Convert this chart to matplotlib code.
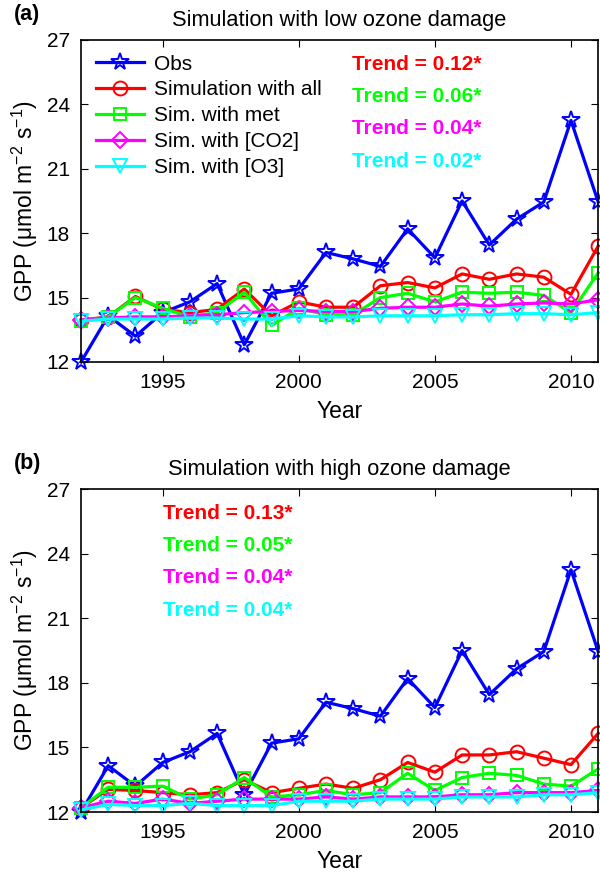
import matplotlib
matplotlib.use("Agg")
import matplotlib.pyplot as plt

plt.rcParams['font.family'] = ['Liberation Sans', 'DejaVu Sans']
plt.rcParams['mathtext.fontset'] = 'custom'
plt.rcParams['mathtext.rm'] = 'Liberation Sans'
plt.rcParams['mathtext.it'] = 'Liberation Sans:italic'

years = list(range(1992, 2012))

obs = [12.0, 14.15, 13.2, 14.3, 14.8, 15.65, 12.8, 15.2, 15.4, 17.1, 16.8, 16.45,
       18.2, 16.85, 19.5, 17.45, 18.65, 19.45, 23.25, 19.45]

# Panel (a): low ozone damage
a_all = [13.95, 14.1, 15.05, 14.45, 14.3, 14.45, 15.4, 14.15, 14.8, 14.55, 14.55, 15.55,
         15.7, 15.45, 16.1, 15.85, 16.1, 15.95, 15.15, 17.4]
a_met = [13.9, 14.1, 15.0, 14.5, 14.1, 14.3, 15.25, 13.7, 14.5, 14.2, 14.2, 15.0,
         15.2, 14.8, 15.25, 15.2, 15.25, 15.1, 14.3, 16.15]
a_co2 = [13.95, 14.05, 14.1, 14.1, 14.15, 14.2, 14.3, 14.35, 14.4, 14.35, 14.35, 14.5,
         14.55, 14.55, 14.7, 14.6, 14.7, 14.75, 14.7, 14.9]
a_o3 = [13.9, 14.0, 14.0, 14.0, 14.05, 14.05, 14.0, 14.0, 14.15, 14.1, 14.1, 14.15,
        14.15, 14.15, 14.2, 14.2, 14.25, 14.25, 14.2, 14.3]
a_trends = ["Trend = 0.12*", "Trend = 0.06*", "Trend = 0.04*", "Trend = 0.02*"]

# Panel (b): high ozone damage
b_all = [12.2, 13.05, 13.0, 12.9, 12.8, 12.9, 13.5, 12.9, 13.1, 13.3, 13.1, 13.5,
         14.3, 13.85, 14.65, 14.65, 14.8, 14.5, 14.2, 15.65]
b_met = [12.2, 13.15, 13.15, 13.2, 12.6, 12.8, 13.6, 12.7, 12.8, 13.0, 12.8, 12.9,
         13.8, 13.0, 13.6, 13.8, 13.7, 13.3, 13.2, 14.0]
b_co2 = [12.2, 12.5, 12.4, 12.6, 12.4, 12.5, 12.6, 12.6, 12.6, 12.7, 12.6, 12.7,
         12.7, 12.7, 12.8, 12.8, 12.9, 12.9, 12.9, 13.0]
b_o3 = [12.1, 12.35, 12.3, 12.3, 12.4, 12.3, 12.3, 12.3, 12.5, 12.5, 12.5, 12.6,
        12.6, 12.6, 12.7, 12.7, 12.7, 12.8, 12.8, 12.9]
b_trends = ["Trend = 0.13*", "Trend = 0.05*", "Trend = 0.04*", "Trend = 0.04*"]

labels = ["Obs", "Simulation with all", "Sim. with met", "Sim. with [CO2]", "Sim. with [O3]"]
colors = ["#0000ff", "#ff0000", "#00ff00", "#ff00ff", "#00ffff"]
markers = ["*", "o", "s", "D", "v"]
msizes = [13, 10, 8, 8, 10]
trend_colors = colors[1:]

xticks = [1995, 2000, 2005, 2010]
yticks = [12, 15, 18, 21, 24, 27]

fig = plt.figure(figsize=(6, 8.72), dpi=100)
axa = fig.add_axes([0.135, 0.5849, 0.862, 0.3693])
axb = fig.add_axes([0.135, 0.0688, 0.862, 0.3704])

panels = [
    (axa, [obs, a_all, a_met, a_co2, a_o3], a_trends, "Simulation with low ozone damage", "(a)", True),
    (axb, [obs, b_all, b_met, b_co2, b_o3], b_trends, "Simulation with high ozone damage", "(b)", False),
]

for ax, series, trends, title, tag, with_legend in panels:
    for s, c, m, ms, lab in zip(series, colors, markers, msizes, labels):
        ax.plot(years, s, color=c, marker=m, markersize=ms, markerfacecolor='none',
                markeredgecolor=c, markeredgewidth=1.4, lw=2.3, label=lab, clip_on=False)
    ax.set_xlim(1992, 2011)
    ax.set_ylim(12, 27)
    ax.set_xticks(xticks)
    ax.set_yticks(yticks)
    ax.tick_params(direction='in', top=True, right=True, labelsize=15, length=5, width=0.8,
                   pad=8)
    for sp in ax.spines.values():
        sp.set_linewidth(1.2)
    ax.set_title(title, fontsize=15.7, pad=10)
    ax.set_xlabel("Year", fontsize=16.5, labelpad=6)
    ax.set_ylabel("GPP ($\\mathregular{\\mu}$mol m$^{-2}$ s$^{-1}$)", fontsize=16.5, labelpad=5)
    ax.text(-0.13, 1.078, tag, transform=ax.transAxes, fontsize=15.5, fontweight='bold',
            ha='left', va='center')
    if with_legend:
        ax.legend(loc='upper left', frameon=False, fontsize=15, handlelength=2.3,
                  handletextpad=0.5, labelspacing=0.33, borderaxespad=0.3,
                  bbox_to_anchor=(0.0, 1.0))
        tx, ty0 = 0.524, 0.924
    else:
        tx, ty0 = 0.158, 0.925
    for i, (t, c) in enumerate(zip(trends, trend_colors)):
        ax.text(tx, ty0 - i * 0.1, t, transform=ax.transAxes, color=c, fontsize=15,
                fontweight='bold', ha='left', va='center')

fig.savefig("out.png", dpi=100)
